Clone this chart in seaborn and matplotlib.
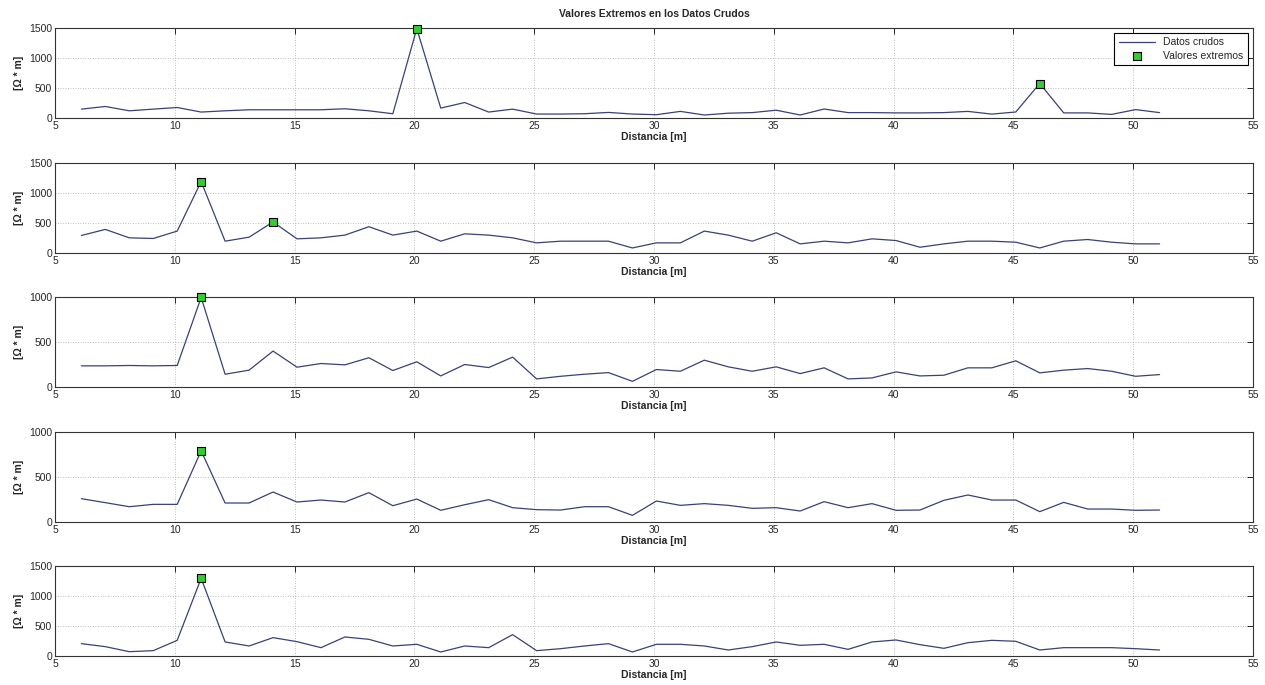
import numpy as np
import pandas as pd
import matplotlib
matplotlib.use("Agg")
import matplotlib.pyplot as plt
import seaborn as sns

distancia = [6.1 + i for i in range(46)]

datos_1 = [148, 192, 120, 148, 175, 99, 120, 137, 137, 137, 137, 154, 120, 71, 1490,
           165, 258, 99, 148, 66, 66, 71, 93, 66,
           55, 110, 50, 80, 90, 130, 50, 150, 90, 90, 85, 85, 90, 110, 65, 100, 575,
           85, 85, 60, 140, 90]
datos_2 = [292, 393, 253, 242, 365, 1190, 197, 264, 517, 236, 253, 298, 438, 298, 365,
           197, 320, 298, 253, 169, 197, 197, 197, 84,
           169, 169, 365, 298, 197, 337, 152, 197, 169, 236, 208, 96, 152, 197, 197, 180,
           84, 197, 225, 180, 152, 152]
datos_3 = [235, 235, 239, 235, 239, 995, 142, 187, 399, 220, 261, 246, 325, 183, 280,
           123, 250, 216, 332, 90, 119, 142, 160, 63,
           194, 175, 298, 224, 175, 224, 149, 213, 90, 101, 168, 123, 131, 213, 213, 291,
           157, 187, 205, 175, 119, 138]
datos_4 = [259, 215, 170, 196, 196, 790, 211, 211, 333, 222, 244, 222, 326, 181, 255,
           130, 192, 248, 159, 137, 133, 170, 170, 74,
           233, 185, 204, 185, 152, 159, 122, 226, 159, 204, 130, 133, 241, 300, 244, 244,
           115, 218, 144, 144, 130, 133]
datos_5 = [206, 156, 72, 89, 261, 1295, 234, 167, 306, 239, 139, 317, 278, 167, 195,
           67, 167, 139, 356, 89, 122, 167, 206, 67,
           195, 195, 167, 100, 156, 234, 178, 195, 111, 234, 267, 189, 128, 222, 261, 245,
           100, 139, 139, 139, 122, 100]

extremos_idx = [[14, 40], [5, 8], [5], [5], [5]]
series = [datos_1, datos_2, datos_3, datos_4, datos_5]
ylims = [1500, 1500, 1000, 1000, 1500]

titulo = "Valores Extremos en los Datos Crudos"
xlabel = "Distancia [m]"
ylabel = "[Ω * m]"

sns.set_style("white")
plt.rcParams['font.family'] = ['Liberation Sans', 'DejaVu Sans']
plt.rcParams['font.size'] = 7

fig = plt.figure(figsize=(12.65, 6.85), dpi=100)
W, H = 1265, 685
tops = [28, 163, 297, 432, 566]
height = 90
left, right = 55, 1253

line_color = "#3a4078"
for i, (top, vals) in enumerate(zip(tops, series)):
    ax = fig.add_axes([left / W, 1 - (top + height) / H, (right - left) / W, height / H])
    df = pd.DataFrame({"x": distancia, "y": vals})
    sns.lineplot(data=df, x="x", y="y", ax=ax, color=line_color, linewidth=0.9,
                 label="Datos crudos" if i == 0 else None, legend=False)
    ex = pd.DataFrame({"x": [distancia[k] for k in extremos_idx[i]],
                       "y": [vals[k] for k in extremos_idx[i]]})
    sns.scatterplot(data=ex, x="x", y="y", ax=ax, marker="s", s=40, color="#33cc33",
                    edgecolor="black", linewidth=0.8, zorder=5, clip_on=False,
                    label="Valores extremos" if i == 0 else None, legend=False)
    ax.set_xlim(5, 55)
    ax.set_ylim(0, ylims[i])
    ax.set_xticks(range(5, 56, 5))
    ax.set_yticks(range(0, ylims[i] + 1, 500))
    ax.grid(True, color="#a8a8a8", linestyle=(0, (1, 2)), linewidth=0.6)
    ax.tick_params(direction="in", length=4, width=0.7, top=True, right=True,
                   labelsize=7.5, pad=2)
    for s in ax.spines.values():
        s.set_color("#333333")
        s.set_linewidth(0.8)
    ax.set_xlabel(xlabel, fontweight="bold", fontsize=7.5, labelpad=1)
    ax.set_ylabel(ylabel, fontweight="bold", fontsize=7.5, labelpad=4)
    if i == 0:
        ax.set_title(titulo, fontweight="bold", fontsize=7.5, pad=8)
        leg = ax.legend(loc="upper right", fancybox=False, framealpha=1,
                        edgecolor="black", fontsize=7.5, borderpad=0.4,
                        handlelength=3.5, labelspacing=0.3)
        leg.get_frame().set_linewidth(0.8)

fig.savefig("out.png", dpi=100)
